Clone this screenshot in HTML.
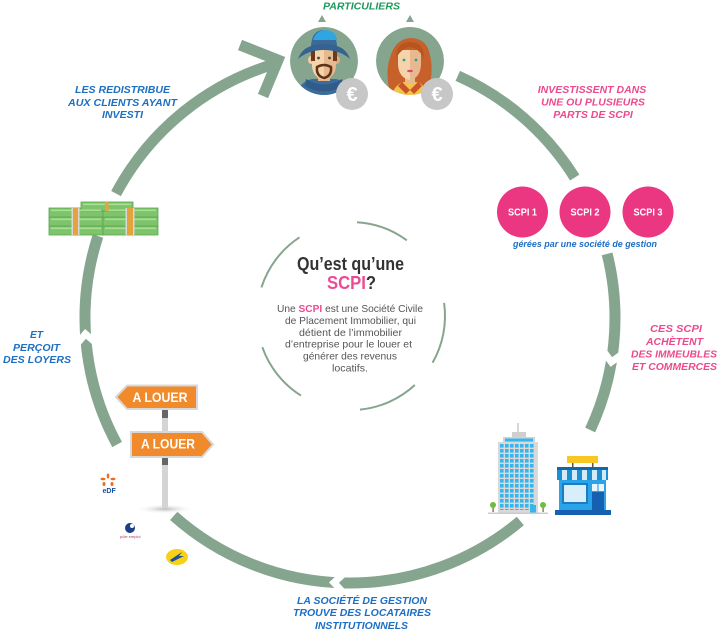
<!DOCTYPE html>
<html><head><meta charset="utf-8"><style>html,body{margin:0;padding:0;background:#fff;}svg{display:block}</style></head>
<body>
<svg width="726" height="641" viewBox="0 0 726 641" xmlns="http://www.w3.org/2000/svg" font-family="'Liberation Sans', Arial, sans-serif">
<defs>
<clipPath id="cm"><circle cx="324" cy="61" r="34"/></clipPath>
<clipPath id="cw"><circle cx="410" cy="61" r="34"/></clipPath>
<pattern id="win" x="500" y="444" width="5" height="5" patternUnits="userSpaceOnUse"><rect width="3.6" height="3.6" fill="#37b6ee"/></pattern>
<radialGradient id="sh"><stop offset="0" stop-color="#bbb"/><stop offset="1" stop-color="#fff" stop-opacity="0"/></radialGradient>
</defs>

<!-- Outer ring -->
<g fill="none" stroke="#86a58f" stroke-width="11" stroke-linecap="butt">
<path d="M116.02,193.59 A265,265 0 0 1 276.96,63.27"/>
<path d="M457.79,75.91 A265,265 0 0 1 574.73,177.57"/>
<path d="M607.13,253.89 A265,265 0 0 1 590.17,429.99"/>
<path d="M520.34,521.00 A265,265 0 0 1 173.71,515.86"/>
<path d="M117.11,444.45 A265,265 0 0 1 97.97,236.11"/>
<polyline points="240,45 278,60 263,96" stroke-linejoin="miter"/>
</g>
<g fill="none" stroke="#fff" stroke-width="7" stroke-linejoin="miter">
<polyline points="623.88,352.83 611.35,362.04 602.14,349.50"/>
<polyline points="344.47,594.04 333.98,582.55 345.47,572.06"/>
<polyline points="75.30,345.67 85.44,333.88 97.23,344.02"/>
</g>

<!-- Inner dashed circle -->
<g fill="none" stroke="#86a58f" stroke-width="2">
<path d="M261.45,287.42 A94,94 0 0 1 299.53,237.34"/>
<path d="M357.07,222.20 A94,94 0 0 1 406.78,240.34"/>
<path d="M444.09,302.92 A94,94 0 0 1 432.57,362.72"/>
<path d="M414.81,385.03 A94,94 0 0 1 360.01,409.57"/>
<path d="M300.90,395.54 A94,94 0 0 1 262.34,347.22"/>
</g>

<!-- Center text -->
<text x="350.5" y="270" text-anchor="middle" font-size="18" font-weight="bold" fill="#333" textLength="107" lengthAdjust="spacingAndGlyphs">Qu’est qu’une</text>
<text x="351.5" y="289" text-anchor="middle" font-size="18" font-weight="bold" fill="#333" textLength="49" lengthAdjust="spacingAndGlyphs"><tspan fill="#ec4a93">SCPI</tspan>?</text>
<g font-size="10.5" fill="#555">
<text x="277" y="312" textLength="146" lengthAdjust="spacingAndGlyphs">Une <tspan fill="#ec4a93" font-weight="bold">SCPI</tspan> est une Société Civile</text>
<text x="285" y="324" textLength="131" lengthAdjust="spacingAndGlyphs">de Placement Immobilier, qui</text>
<text x="299" y="336" textLength="103" lengthAdjust="spacingAndGlyphs">détient de l’immobilier</text>
<text x="285" y="347.5" textLength="127" lengthAdjust="spacingAndGlyphs">d’entreprise pour le louer et</text>
<text x="303" y="359.5" textLength="94" lengthAdjust="spacingAndGlyphs">générer des revenus</text>
<text x="332" y="371.5" textLength="36" lengthAdjust="spacingAndGlyphs">locatifs.</text>
</g>

<!-- Labels -->
<g font-size="10.5" font-weight="bold" font-style="italic">
<text x="323" y="9.5" fill="#1d9a5b" textLength="77" lengthAdjust="spacingAndGlyphs">PARTICULIERS</text>
<g fill="#1d6fc4">
<text x="75" y="93" textLength="95" lengthAdjust="spacingAndGlyphs">LES REDISTRIBUE</text>
<text x="68" y="106" textLength="109" lengthAdjust="spacingAndGlyphs">AUX CLIENTS AYANT</text>
<text x="102" y="118" textLength="41" lengthAdjust="spacingAndGlyphs">INVESTI</text>
<text x="30" y="338" textLength="13" lengthAdjust="spacingAndGlyphs">ET</text>
<text x="13" y="351" textLength="47" lengthAdjust="spacingAndGlyphs">PERÇOIT</text>
<text x="3" y="363" textLength="68" lengthAdjust="spacingAndGlyphs">DES LOYERS</text>
<text x="297" y="604" textLength="130" lengthAdjust="spacingAndGlyphs">LA SOCIÉTÉ DE GESTION</text>
<text x="293" y="616" textLength="138" lengthAdjust="spacingAndGlyphs">TROUVE DES LOCATAIRES</text>
<text x="315" y="629" textLength="93" lengthAdjust="spacingAndGlyphs">INSTITUTIONNELS</text>
<text x="513" y="247" font-size="9" textLength="144" lengthAdjust="spacingAndGlyphs">gérées par une société de gestion</text>
</g>
<g fill="#ec4a8c">
<text x="592" y="93" text-anchor="middle">INVESTISSENT DANS</text>
<text x="593" y="105.5" text-anchor="middle">UNE OU PLUSIEURS</text>
<text x="593" y="118" text-anchor="middle">PARTS DE SCPI</text>
<text x="650" y="332" textLength="52" lengthAdjust="spacingAndGlyphs">CES SCPI</text>
<text x="646" y="345" textLength="57" lengthAdjust="spacingAndGlyphs">ACHÈTENT</text>
<text x="631" y="357.5" textLength="86" lengthAdjust="spacingAndGlyphs">DES IMMEUBLES</text>
<text x="632" y="370" textLength="85" lengthAdjust="spacingAndGlyphs">ET COMMERCES</text>
</g>
</g>

<!-- SCPI circles -->
<g>
<circle cx="522.5" cy="212" r="25.5" fill="#eb3782"/>
<circle cx="585" cy="212" r="25.5" fill="#eb3782"/>
<circle cx="648" cy="212" r="25.5" fill="#eb3782"/>
<g fill="#fff" font-size="10" font-weight="bold" text-anchor="middle">
<text x="522.5" y="215.5" textLength="29" lengthAdjust="spacingAndGlyphs">SCPI 1</text>
<text x="585" y="215.5" textLength="29" lengthAdjust="spacingAndGlyphs">SCPI 2</text>
<text x="648" y="215.5" textLength="29" lengthAdjust="spacingAndGlyphs">SCPI 3</text>
</g>
</g>

<!-- small triangles -->
<polygon points="318,22 322,15 326,22" fill="#86a58f"/>
<polygon points="406,22 410,15 414,22" fill="#86a58f"/>

<!-- Man avatar -->
<g clip-path="url(#cm)">
<circle cx="324" cy="61" r="34" fill="#86a58f"/>
<path d="M294,100 Q298,82 312,79 L336,79 Q350,82 354,100 Z" fill="#3d6c9b"/>
<path d="M300,100 L304,90 L310,100Z" fill="#d2453f"/>
<path d="M305,86 Q324,97 343,86 L342,79 Q324,90 306,79Z" fill="#2f5c88"/>
<rect x="318" y="72" width="12" height="9" fill="#e6b68a"/>
<ellipse cx="311" cy="60" rx="3" ry="4" fill="#f2c9a0"/>
<ellipse cx="337" cy="60" rx="3" ry="4" fill="#e0ad82"/>
<path d="M312,48 L324,48 L324,80 Q313,78 312,66Z" fill="#f6d3ab"/>
<path d="M324,48 L336,48 L336,66 Q335,78 324,80Z" fill="#e8b98e"/>
<rect x="311" y="48" width="4" height="13" fill="#6b3a1c"/>
<rect x="333" y="48" width="4" height="13" fill="#6b3a1c"/>
<path d="M317,67 Q324,63 331,67 Q332,76 324,78 Q316,76 317,67Z" fill="none" stroke="#5e3318" stroke-width="2.5"/>
<circle cx="318.5" cy="58" r="1.4" fill="#4a4a2a"/>
<circle cx="329.5" cy="58" r="1.4" fill="#4a4a2a"/>
<path d="M311,48 Q311,30 324,30 Q337,30 337,48Z" fill="#3a6a99"/>
<path d="M313,40 Q316,30 326,30 Q336,31 337,40 Z" fill="#2fa6df"/>
<path d="M298,59 Q303,44 324,44 Q345,44 350,59 Q340,50 324,50 Q308,50 298,59Z" fill="#35628f"/>
</g>
<!-- Woman avatar -->
<g clip-path="url(#cw)">
<circle cx="410" cy="61" r="34" fill="#86a58f"/>
<path d="M390,92 Q384,70 392,52 Q398,38 412,38 Q427,39 430,55 Q434,72 428,92Z" fill="#c6612b"/>
<path d="M390,100 Q394,84 404,82 L416,82 Q426,84 430,100Z" fill="#f4c44a"/>
<path d="M402,82 L410,90 L406,94 L398,86Z" fill="#c9542b"/>
<path d="M418,82 L410,90 L414,94 L422,86Z" fill="#c9542b"/>
<rect x="405" y="74" width="10" height="10" fill="#e8b98e"/>
<path d="M398,50 L410,50 L410,80 Q399,78 398,65Z" fill="#f6d3ab"/>
<path d="M410,50 L421,50 L421,65 Q420,78 410,80Z" fill="#e8b98e"/>
<path d="M396,58 Q396,42 410,42 Q424,42 424,58 Q418,48 410,47 Q402,48 396,58Z" fill="#b8551f"/>
<circle cx="404" cy="60" r="1.4" fill="#2f9e8a"/>
<circle cx="416" cy="60" r="1.4" fill="#2f9e8a"/>
<ellipse cx="410" cy="71" rx="3" ry="1.3" fill="#e0457a"/>
</g>
<!-- Euro coins -->
<circle cx="352" cy="94" r="16" fill="#c7c7c7"/>
<text x="352" y="101" text-anchor="middle" font-size="20" font-weight="bold" fill="#fff">€</text>
<circle cx="437" cy="94" r="16" fill="#c7c7c7"/>
<text x="437" y="101" text-anchor="middle" font-size="20" font-weight="bold" fill="#fff">€</text>

<!-- Money -->
<g stroke="#5aa552" stroke-width="0.8">
<rect x="49" y="226" width="54" height="9" fill="#7dc46b"/>
<rect x="49" y="217" width="54" height="9" fill="#7dc46b"/>
<rect x="49" y="208" width="54" height="9" fill="#7dc46b"/>
<rect x="103" y="226" width="55" height="9" fill="#7dc46b"/>
<rect x="103" y="217" width="55" height="9" fill="#7dc46b"/>
<rect x="103" y="208" width="55" height="9" fill="#7dc46b"/>
<rect x="81" y="202" width="52" height="9" fill="#7dc46b"/>
</g>
<g fill="#a9de95">
<rect x="51" y="209.5" width="50" height="1.6"/><rect x="51" y="218.5" width="50" height="1.6"/><rect x="51" y="227.5" width="50" height="1.6"/>
<rect x="105" y="209.5" width="51" height="1.6"/><rect x="105" y="218.5" width="51" height="1.6"/><rect x="105" y="227.5" width="51" height="1.6"/>
<rect x="83" y="203.5" width="48" height="1.6"/>
</g>
<g fill="#e7a33b">
<rect x="73" y="208" width="5" height="27"/>
<rect x="127" y="208" width="6" height="27"/>
<rect x="105" y="202" width="3.5" height="9"/>
</g>
<g fill="#d8d8d8">
<rect x="71.5" y="208" width="1.5" height="27"/><rect x="78" y="208" width="1.5" height="27"/>
<rect x="125.5" y="208" width="1.5" height="27"/><rect x="133" y="208" width="1.5" height="27"/>
</g>

<!-- Sign post -->
<ellipse cx="165" cy="509" rx="30" ry="5" fill="url(#sh)"/>
<rect x="162" y="405" width="6" height="103" fill="#d4d4d4"/>
<rect x="162" y="409" width="6" height="9" fill="#666"/>
<rect x="162" y="457" width="6" height="8" fill="#666"/>
<polygon points="116,397 127,385.5 197,385.5 197,409 127,409" fill="#f08a2a" stroke="#d8d8d8" stroke-width="2"/>
<text x="160" y="402" text-anchor="middle" font-size="14" font-weight="bold" fill="#fff" textLength="55" lengthAdjust="spacingAndGlyphs">A LOUER</text>
<polygon points="131,432 202,432 213,444.5 202,457 131,457" fill="#f08a2a" stroke="#d8d8d8" stroke-width="2"/>
<text x="168" y="448.5" text-anchor="middle" font-size="14" font-weight="bold" fill="#fff" textLength="54" lengthAdjust="spacingAndGlyphs">A LOUER</text>

<!-- Logos -->
<g fill="#ef6a23">
<ellipse cx="108" cy="476" rx="1.3" ry="2.5"/>
<ellipse cx="103" cy="479" rx="2.5" ry="1.2"/>
<ellipse cx="113" cy="479" rx="2.5" ry="1.2"/>
<ellipse cx="104" cy="484" rx="1.5" ry="2"/>
<ellipse cx="112" cy="484" rx="1.5" ry="2"/>
</g>
<text x="102.5" y="493" font-size="7" font-weight="bold" fill="#1a4d9c">eDF</text>
<circle cx="130" cy="528" r="5" fill="#1d3e8a"/>
<circle cx="132" cy="526" r="2" fill="#fff"/>
<text x="120" y="538" font-size="4" fill="#b03a5a">pôle emploi</text>
<ellipse cx="177" cy="557" rx="11" ry="8" fill="#f7d117"/>
<path d="M170,560 L182,552 L179,556 L184,556 L172,562Z" fill="#1d4f9e"/>

<!-- Tower -->
<line x1="518" y1="423" x2="518" y2="433" stroke="#bbb" stroke-width="1.2"/>
<rect x="512" y="432" width="14" height="5" fill="#cfcfcf"/>
<rect x="503" y="437" width="32" height="6" fill="#d4d4d4"/>
<rect x="505" y="438.5" width="28" height="3" fill="#37b6ee"/>
<rect x="498" y="442" width="40" height="71" fill="#d9d9d9"/>
<rect x="500" y="444" width="35" height="66" fill="url(#win)"/>
<rect x="530" y="505" width="6" height="8" fill="#37b6ee"/>
<rect x="488" y="512.5" width="60" height="1.5" fill="#ccc"/>
<rect x="492.5" y="506" width="1.2" height="6" fill="#7a5a2a"/>
<circle cx="493" cy="505" r="3" fill="#6bbf3c"/>
<rect x="542.5" y="506" width="1.2" height="6" fill="#7a5a2a"/>
<circle cx="543" cy="505" r="3" fill="#6bbf3c"/>

<!-- Shop -->
<rect x="567" y="456" width="31" height="7" fill="#f9c623"/>
<rect x="572" y="463" width="1.5" height="5" fill="#555"/>
<rect x="592" y="463" width="1.5" height="5" fill="#555"/>
<rect x="559" y="480" width="47" height="31" fill="#2aa3e8"/>
<rect x="557" y="467" width="51" height="3" fill="#1566a8"/>
<g>
<rect x="557" y="470" width="51" height="10" fill="#d3ebf8"/>
<rect x="557" y="470" width="5" height="10" fill="#1b8fd4"/>
<rect x="567" y="470" width="5" height="10" fill="#1b8fd4"/>
<rect x="577" y="470" width="5" height="10" fill="#1b8fd4"/>
<rect x="587" y="470" width="5" height="10" fill="#1b8fd4"/>
<rect x="597" y="470" width="5" height="10" fill="#1b8fd4"/>
<rect x="606" y="470" width="2" height="10" fill="#1b8fd4"/>
</g>
<rect x="562" y="483" width="26" height="21" fill="#1b7cc4"/>
<rect x="564" y="485" width="22" height="17" fill="#d8eefa"/>
<rect x="592" y="484" width="12" height="7" fill="#e8f5fc"/>
<rect x="597.5" y="484" width="1" height="7" fill="#1b8fd4"/>
<rect x="592" y="492" width="12" height="19" fill="#1560b0"/>
<rect x="555" y="510" width="56" height="5" fill="#1560b0"/>
</svg>
</body></html>
